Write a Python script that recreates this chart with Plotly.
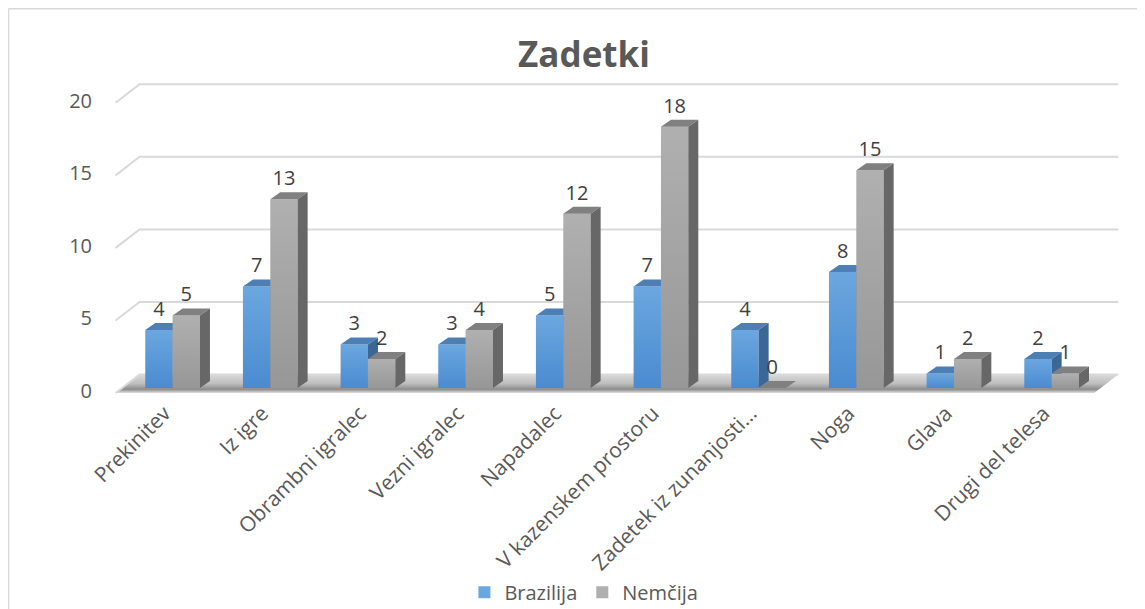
import plotly.graph_objects as go

# ---------------- data ----------------
categories = ["Prekinitev", "Iz igre", "Obrambni igralec", "Vezni igralec", "Napadalec",
              "V kazenskem prostoru", "Zadetek iz zunanjosti…", "Noga", "Glava", "Drugi del telesa"]
brazilija = [4, 7, 3, 3, 5, 7, 4, 8, 1, 2]
nemcija = [5, 13, 2, 4, 12, 18, 0, 15, 2, 1]
series_names = ["Brazilija", "Nemčija"]
y_ticks = [0, 5, 10, 15, 20]

# ---------------- geometry / style ----------------
W, H = 1145, 609
OFF = 8  # page body margin
X0, X1 = -0.6, 9.7
Y0, Y1 = -0.55, 21.5
PXX, PXY = 97.6, 14.5            # pixels per unit
L = 124.2 - 0.1 * PXX - OFF      # pixel of x = X0
R = L + (X1 - X0) * PXX
B = 388 - Y0 * PXY - OFF         # pixel of y = Y0 (value 0 front face at 388)
T = B - (Y1 - Y0) * PXY
px_x, px_y = PXX, PXY


def ux(p):
    return p / px_x


def uy(p):
    return p / px_y


def xpix(p):
    return X0 + (p - OFF - L) / px_x


bar_w = 0.28
ddx, ddy = ux(10), uy(7)
front_x, back_x, right_x = xpix(116), xpix(140), xpix(1118)
front_dy, back_dy = -uy(5), uy(13.5)
floor_right_front = right_x - (back_x - front_x)
label_gap = uy(19)

FONT = "Open Sans"
TXT = "#595959"

styles = {
    "Brazilija": dict(front=["#4a8bd0", "#6ba7df"], top="#4d7fb5", side="#3a6796"),
    "Nemčija": dict(front=["#979797", "#b0b0b0"], top="#808080", side="#676767"),
}

fig = go.Figure()

# floor
fig.add_trace(go.Scatter(
    x=[front_x, floor_right_front, right_x, back_x, front_x],
    y=[front_dy, front_dy, back_dy, back_dy, front_dy],
    mode="lines", line=dict(width=0), fill="toself",
    fillgradient=dict(type="vertical", start=front_dy, stop=back_dy,
                      colorscale=[[0, "#e0e0e0"], [0.2, "#8c8c8c"], [0.5, "#bdbdbd"], [1, "#dadada"]]),
    hoverinfo="skip", showlegend=False))

# back-wall gridlines
gx, gy = [], []
for v in y_ticks:
    gx += [front_x, back_x, right_x, None]
    gy += [v + front_dy, v + back_dy, v + back_dy, None]
fig.add_trace(go.Scatter(x=gx, y=gy, mode="lines", line=dict(color="#d9d9d9", width=2),
                         hoverinfo="skip", showlegend=False))

# bars (front / top / side faces)
for s, (name, vals) in enumerate(zip(series_names, [brazilija, nemcija])):
    st = styles[name]
    tops_x, tops_y, sides_x, sides_y = [], [], [], []
    for i, v in enumerate(vals):
        xl = i - bar_w + s * bar_w
        xr = xl + bar_w
        if v > 0:
            fig.add_trace(go.Scatter(
                x=[xl, xr, xr, xl, xl], y=[0, 0, v, v, 0], mode="lines", line=dict(width=0),
                fill="toself",
                fillgradient=dict(type="vertical", colorscale=[[0, st["front"][0]], [1, st["front"][1]]]),
                hoverinfo="skip", showlegend=False))
        tops_x += [xl, xr, xr + ddx, xl + ddx, xl, None]
        tops_y += [v, v, v + ddy, v + ddy, v, None]
        sides_x += [xr, xr + ddx, xr + ddx, xr, xr, None]
        sides_y += [0, ddy, v + ddy, v, 0, None]
    fig.add_trace(go.Scatter(x=tops_x, y=tops_y, mode="lines", line=dict(width=0),
                             fill="toself", fillcolor=st["top"], hoverinfo="skip", showlegend=False))
    fig.add_trace(go.Scatter(x=sides_x, y=sides_y, mode="lines", line=dict(width=0),
                             fill="toself", fillcolor=st["side"], hoverinfo="skip", showlegend=False))

# data labels
for s, (name, vals) in enumerate(zip(series_names, [brazilija, nemcija])):
    xs = [i - bar_w / 2 + s * bar_w for i in range(len(vals))]
    ys = [v + label_gap for v in vals]
    fig.add_trace(go.Scatter(x=xs, y=ys, mode="text", text=[str(v) for v in vals],
                             textposition="middle center",
                             textfont=dict(family=FONT, size=20, color="#404040"),
                             hoverinfo="skip", showlegend=False))

# legend entries
for name in series_names:
    fig.add_trace(go.Bar(x=[None], y=[None], name=name,
                         marker=dict(color=styles[name]["front"][1], line=dict(width=0))))

fig.update_layout(
    width=W, height=H,
    margin=dict(l=L, r=W - R, t=T, b=H - B, autoexpand=False),
    paper_bgcolor="white", plot_bgcolor="white",
    title=dict(text="<b>Zadetki</b>", x=(584 - OFF) / W, y=1 - (55 - OFF) / H,
               xref="container", yref="container", xanchor="center", yanchor="middle",
               font=dict(family=FONT, size=35, color=TXT)),
    showlegend=True,
    legend=dict(orientation="h", x=(584 - OFF - L) / (R - L), y=(B - (592 - OFF)) / (B - T),
                xanchor="center", yanchor="middle",
                font=dict(family=FONT, size=20, color=TXT), traceorder="normal"),
    xaxis=dict(range=[X0, X1], tickvals=list(range(len(categories))), ticktext=categories,
               tickangle=-45, showgrid=False, zeroline=False, showline=False, ticks="",
               ticklabelshift=-8,
               tickfont=dict(family=FONT, size=21, color=TXT), automargin=False, fixedrange=True),
    yaxis=dict(range=[Y0, Y1], tickvals=y_ticks, showgrid=False, zeroline=False, showline=False,
               ticks="", ticklabelstandoff=21, ticklabelshift=3,
               tickfont=dict(family=FONT, size=20, color=TXT), automargin=False, fixedrange=True),
    shapes=[
        dict(type="line", xref="paper", yref="paper", x0=(9 - OFF - L) / (R - L), x1=(W + 5 - L) / (R - L),
             y0=(B - (9 - OFF)) / (B - T), y1=(B - (9 - OFF)) / (B - T), line=dict(color="#d9d9d9", width=1.5)),
        dict(type="line", xref="paper", yref="paper", x0=(9 - OFF - L) / (R - L), x1=(9 - OFF - L) / (R - L),
             y0=(B - (9 - OFF)) / (B - T), y1=(B - H - 5) / (B - T), line=dict(color="#d9d9d9", width=1.5)),
    ],
)

fig.write_html("out.html")
